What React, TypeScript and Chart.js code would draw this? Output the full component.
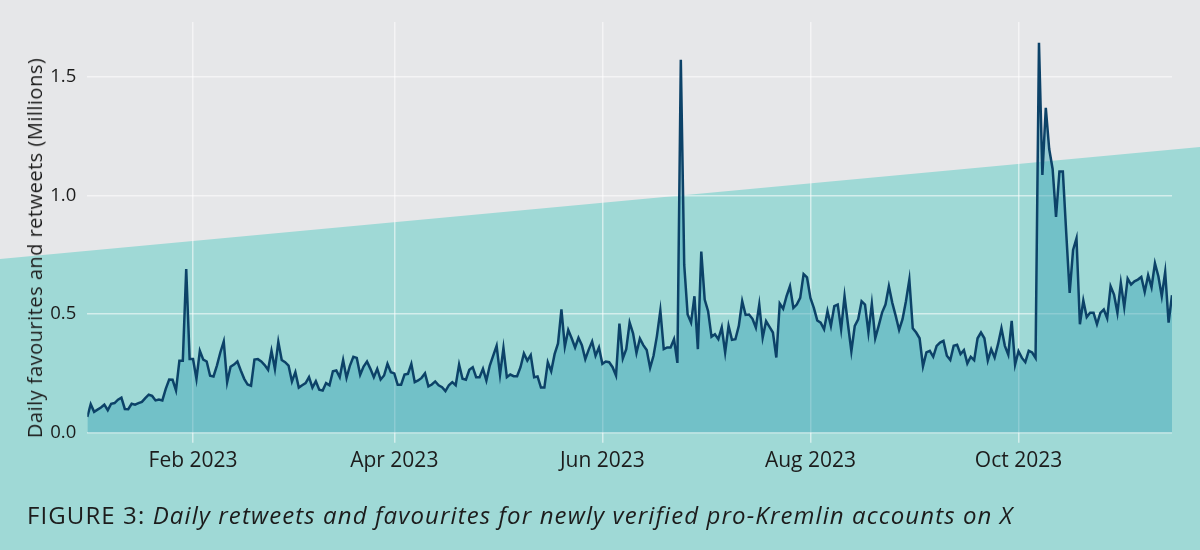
import { useEffect, useRef } from "react"
import { Chart, registerables } from "chart.js"

Chart.register(...registerables)

// daily totals (millions), 1 Jan 2023 .. 15 Nov 2023
const VALUES = [
  0.067, 0.12, 0.088, 0.097, 0.106, 0.118, 0.095, 0.122, 0.125, 0.139,
  0.148, 0.10, 0.099, 0.122, 0.118, 0.125, 0.13, 0.146, 0.16, 0.155,
  0.136, 0.14, 0.136, 0.185, 0.224, 0.223, 0.178, 0.303, 0.303, 0.69,
  0.31, 0.31, 0.227, 0.345, 0.308, 0.30, 0.24, 0.237, 0.283, 0.338,
  0.384, 0.213, 0.278, 0.287, 0.30, 0.262, 0.227, 0.203, 0.198, 0.308,
  0.31, 0.30, 0.285, 0.265, 0.345, 0.269, 0.383, 0.306, 0.297, 0.283,
  0.216, 0.255, 0.19, 0.2, 0.209, 0.234, 0.19, 0.217, 0.181, 0.178,
  0.209, 0.2, 0.259, 0.262, 0.234, 0.306, 0.231, 0.283, 0.32, 0.315,
  0.244, 0.279, 0.30, 0.269, 0.234, 0.269, 0.224, 0.241, 0.29, 0.255,
  0.25, 0.202, 0.202, 0.245, 0.248, 0.29, 0.213, 0.22, 0.231, 0.25,
  0.195, 0.203, 0.216, 0.2, 0.192, 0.175, 0.2, 0.213, 0.2, 0.287,
  0.227, 0.223, 0.265, 0.276, 0.234, 0.234, 0.269, 0.22, 0.283, 0.325,
  0.366, 0.245, 0.357, 0.234, 0.245, 0.238, 0.238, 0.276, 0.334, 0.304,
  0.327, 0.234, 0.237, 0.19, 0.19, 0.297, 0.259, 0.331, 0.376, 0.52,
  0.363, 0.433, 0.398, 0.359, 0.40, 0.369, 0.31, 0.35, 0.384, 0.324,
  0.359, 0.29, 0.30, 0.297, 0.276, 0.241, 0.46, 0.313, 0.352, 0.464,
  0.419, 0.336, 0.397, 0.369, 0.348, 0.273, 0.324, 0.408, 0.515, 0.352,
  0.359, 0.359, 0.394, 0.294, 1.571, 0.707, 0.498, 0.464, 0.575, 0.352,
  0.763, 0.561, 0.512, 0.404, 0.415, 0.394, 0.443, 0.338, 0.45, 0.391,
  0.394, 0.45, 0.554, 0.496, 0.498, 0.48, 0.443, 0.54, 0.401, 0.47,
  0.446, 0.422, 0.317, 0.544, 0.522, 0.575, 0.617, 0.526, 0.54, 0.568,
  0.668, 0.654, 0.568, 0.526, 0.473, 0.464, 0.436, 0.512, 0.45, 0.533,
  0.54, 0.436, 0.575, 0.457, 0.343, 0.45, 0.478, 0.554, 0.54, 0.422,
  0.543, 0.398, 0.45, 0.506, 0.54, 0.617, 0.547, 0.492, 0.433, 0.478,
  0.554, 0.645, 0.44, 0.422, 0.398, 0.28, 0.338, 0.345, 0.32, 0.366,
  0.38, 0.387, 0.324, 0.306, 0.366, 0.37, 0.331, 0.348, 0.292, 0.32,
  0.306, 0.398, 0.422, 0.398, 0.304, 0.352, 0.317, 0.373, 0.44, 0.366,
  0.329, 0.471, 0.287, 0.343, 0.315, 0.297, 0.345, 0.338, 0.315, 1.643,
  1.086, 1.369, 1.195, 1.111, 0.909, 1.1, 1.1, 0.84, 0.589, 0.77,
  0.819, 0.457, 0.557, 0.487, 0.505, 0.505, 0.457, 0.505, 0.519, 0.482,
  0.617, 0.582, 0.505, 0.631, 0.529, 0.649, 0.624, 0.638, 0.645, 0.656,
  0.593, 0.663, 0.613, 0.714, 0.659, 0.575, 0.677, 0.464, 0.579,
]

// day index (from 1 Jan) of each labelled month start
const TICK_DAYS = [31, 90, 151, 212, 273]
const TICK_LABELS = ["Feb 2023", "Apr 2023", "Jun 2023", "Aug 2023", "Oct 2023"]
const Y_TICKS = [0, 0.5, 1.0, 1.5]

const Y_TITLE = "Daily favourites and retweets (Millions)"
const CAPTION_LEAD = "FIGURE 3: "
const CAPTION_TEXT = "Daily retweets and favourites for newly verified pro-Kremlin accounts on X"

const FONT = "'Open Sans', Lato, sans-serif"
const INK = "#1c1c1c"
const GRID = "rgba(255,255,255,0.55)"

// grey page with the slanted teal band behind everything
const backdrop = {
  id: "backdrop",
  beforeDraw(chart: any) {
    const { ctx, width, height } = chart
    ctx.save()
    ctx.fillStyle = "#e6e7e9"
    ctx.fillRect(0, 0, width, height)
    ctx.fillStyle = "#9fd9d6"
    ctx.beginPath()
    ctx.moveTo(0, 259)
    ctx.lineTo(width, 147)
    ctx.lineTo(width, height)
    ctx.lineTo(0, height)
    ctx.closePath()
    ctx.fill()
    ctx.restore()
  },
}

function ActivityChart() {
  const canvasRef = useRef<HTMLCanvasElement>(null)

  useEffect(() => {
    const el = canvasRef.current
    if (el == null) return
    const chart = new Chart(el, {
      type: "line",
      data: {
        datasets: [{
          data: VALUES.map((v, i) => ({ x: i, y: v })),
          borderColor: "#0c4268",
          borderWidth: 2.5,
          backgroundColor: "rgba(69,169,186,0.5)",
          fill: "origin",
          pointRadius: 0,
          tension: 0,
        }],
      },
      options: {
        animation: false,
        responsive: true,
        maintainAspectRatio: false,
        layout: { padding: { top: 18, right: 28, bottom: 0, left: 0 } },
        plugins: {
          legend: { display: false },
          tooltip: { enabled: false },
        },
        scales: {
          x: {
            type: "linear",
            min: 0,
            max: VALUES.length - 1,
            afterBuildTicks: (s: any) => { s.ticks = TICK_DAYS.map(v => ({ value: v })) },
            afterFit: (s: any) => { s.height = 117.3 },
            ticks: {
              callback: (v: any) => TICK_LABELS[TICK_DAYS.indexOf(v)],
              font: { family: FONT, size: 21 },
              color: INK,
              padding: 6,
              maxRotation: 0,
            },
            grid: { color: GRID, lineWidth: 1.5, tickLength: 10 },
            border: { display: false },
          },
          y: {
            min: 0,
            max: 1.73,
            afterBuildTicks: (s: any) => { s.ticks = Y_TICKS.map(v => ({ value: v })) },
            afterFit: (s: any) => { s.width = 87.3 },
            ticks: {
              callback: (v: any) => Number(v).toFixed(1),
              font: { family: FONT, size: 18.5 },
              color: INK,
              padding: 11,
            },
            grid: { color: GRID, lineWidth: 1.5, drawTicks: false },
            border: { display: false },
          },
        },
      },
      plugins: [backdrop],
    })
    return () => chart.destroy()
  }, [])

  return <canvas ref={canvasRef} />
}

export default function App() {
  return (
    <div style={{ position: "fixed", left: 0, top: 0, width: 1200, height: 550, fontFamily: FONT, color: INK }}>
      <ActivityChart />
      <div style={{
        position: "absolute", left: 35, top: 248, whiteSpace: "nowrap", fontSize: 20, letterSpacing: 0.5,
        transform: "translate(-50%, -50%) rotate(-90deg)", lineHeight: 1,
      }}>{Y_TITLE}</div>
      <div style={{ position: "absolute", left: 27, top: 501, fontSize: 24, letterSpacing: 1.1, lineHeight: "28px", whiteSpace: "nowrap" }}>
        {CAPTION_LEAD}<i>{CAPTION_TEXT}</i>
      </div>
    </div>
  )
}
